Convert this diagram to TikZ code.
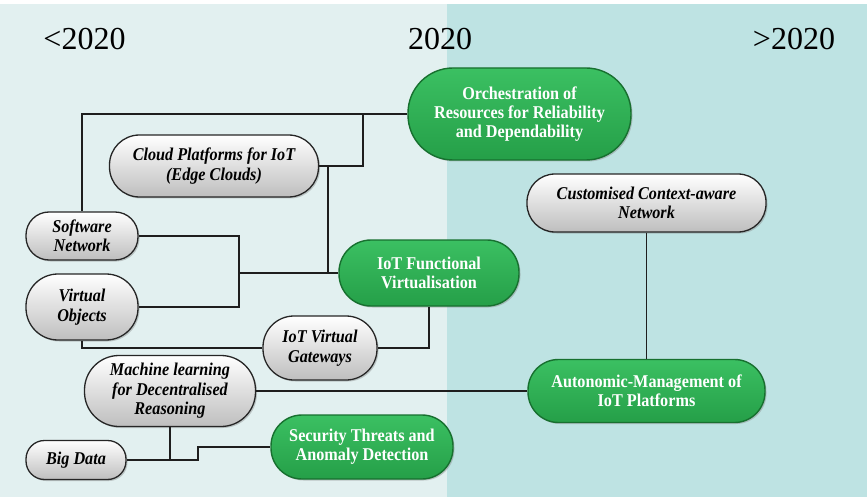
\documentclass[tikz,border=0pt]{standalone}
\usepackage{fontspec}
\setmainfont{Liberation Serif}
\newfontfamily\boxfont[FakeStretch=0.9]{Liberation Serif}
\usetikzlibrary{shadows}
\definecolor{panelold}{HTML}{E2F0F0}
\definecolor{panelnew}{HTML}{BEE3E3}
\definecolor{goaltop}{HTML}{3BC062}
\definecolor{goalbot}{HTML}{259F48}
\definecolor{goalrim}{HTML}{17702F}
\definecolor{techbot}{HTML}{BEBEBE}
\definecolor{linecol}{HTML}{1E1E1E}
\tikzset{
  pill/.style 2 args={rectangle, rounded corners=#2/2-1, minimum width=#1, minimum height=#2, inner sep=0pt, align=center},
  goal/.style={draw=goalrim, line width=1.4pt, top color=goaltop, bottom color=goalbot, text=white,
    font=\boxfont\fontsize{18}{19}\selectfont\bfseries, drop shadow={opacity=0.4, shadow xshift=1.5pt, shadow yshift=-1.5pt}},
  tech/.style={draw=black!85, line width=1.3pt, top color=white, bottom color=techbot, text=black,
    font=\boxfont\fontsize{18}{19.5}\selectfont\bfseries\itshape, drop shadow={opacity=0.4, shadow xshift=1.5pt, shadow yshift=-1.5pt}},
  year/.style={font=\fontsize{32}{36}\selectfont, anchor=base},
  wire/.style={draw=linecol, line width=1.3pt},
}
\begin{document}
\begin{tikzpicture}[x=1pt,y=-1pt]
        \useasboundingbox (0,0) rectangle (867,497);
        \fill[panelold] (0,4) rectangle (447,497);
        \fill[panelnew] (447,4) rectangle (867,497);
        \node[year] (old) at (84.5,50) {<2020};
        \node[year] (now) at (440,50) {2020};
        \node[year] (new) at (794,50) {>2020};
        \node[goal, pill={223}{92}] (orch) at (519.5,114) {Orchestration of\\Resources for Reliability\\and Dependability};
        \node[tech, pill={209}{62}] (cloud) at (214,166) {Cloud Platforms for IoT\\(Edge Clouds)};
        \node[tech, pill={112}{48}] (soft) at (82,236) {Software\\Network};
        \node[tech, pill={112}{66}] (virt) at (82,307) {Virtual\\Objects};
        \node[goal, pill={180}{66}] (func) at (429,273) {IoT Functional\\Virtualisation};
        \node[tech, pill={114}{64}] (gate) at (320,348) {IoT Virtual\\Gateways};
        \node[tech, pill={171}{71}] (ml) at (170,391) {Machine learning\\for Decentralised\\Reasoning};
        \node[tech, pill={100}{39}] (big) at (76,460) {Big Data};
        \node[goal, pill={182}{64}] (sec) at (362,447) {Security Threats and\\Anomaly Detection};
        \node[tech, pill={239}{58}] (cust) at (646.5,203) {Customised Context-aware\\Network};
        \node[goal, pill={237}{63}] (auto) at (646.5,391) {Autonomic-Management of\\IoT Platforms};
        % junctions
        \coordinate (jcloud) at (363,114);
        \coordinate (jdown) at (328,166);
        \coordinate (jleft) at (239,273);
        \coordinate (jsec) at (198,460);
        \path[wire] (orch.west) -| (soft.north);
        \path[wire] (cloud.east) -| (jcloud);
        \path[wire] (jdown) |- (func.west);
        \path[wire] (soft.east) -| (jleft);
        \path[wire] (virt.east) -| (jleft);
        \path[wire] (jleft) -- (func.west);
        \path[wire] (virt.south) |- (gate.west);
        \path[wire] (gate.east) -| (func.south);
        \path[wire] (ml.east) -- (auto.west);
        \path[wire] (ml.south) |- (big.east);
        \path[wire] (big.east) -- (jsec) |- (sec.west);
        \path[wire] (cust.south) -- (auto.north);
\end{tikzpicture}
\end{document}
